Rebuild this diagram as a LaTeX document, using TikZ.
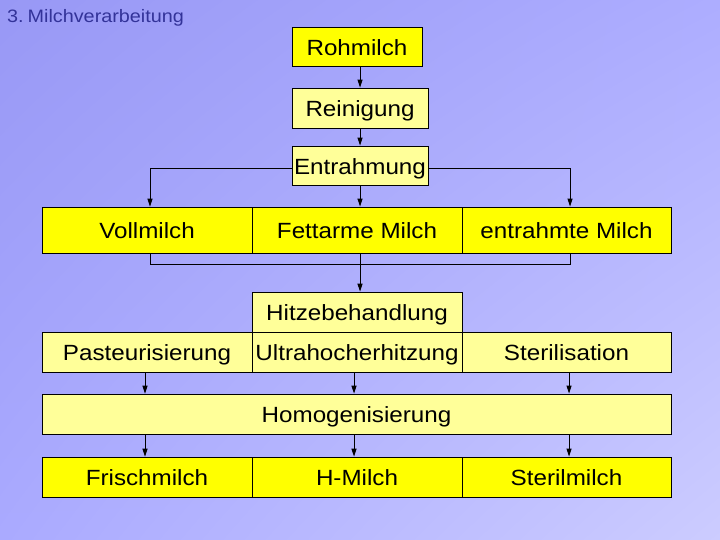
\documentclass[tikz,border=0pt]{standalone}
\usepackage{fontspec}
\setmainfont[FakeStretch=1.1]{Liberation Sans}
\usetikzlibrary{arrows.meta,shadings}
\definecolor{bright}{HTML}{FFFF00}
\definecolor{pale}{HTML}{FFFF99}
\definecolor{titleblue}{RGB}{51,51,153}
\definecolor{bgul}{RGB}{152,152,245}
\definecolor{bgur}{RGB}{173,173,255}
\definecolor{bgll}{RGB}{170,170,255}
\definecolor{bglr}{RGB}{204,204,255}
\tikzset{
  box/.style={draw=black, line width=0.8pt, inner sep=0pt, font=\fontsize{22}{24}\selectfont,
    text height=17.5pt, text depth=0pt, align=center},
  brightbox/.style={box, fill=bright},
  palebox/.style={box, fill=pale},
  conn/.style={draw=black, line width=0.95pt},
  arr/.style={conn, -{Triangle[length=8pt,width=5pt]}}
}
\begin{document}
\begin{tikzpicture}[x=1pt,y=-1pt]
\useasboundingbox (0,0) rectangle (720,540);
\shade[upper left=bgul, upper right=bgur, lower left=bgll, lower right=bglr]
  (0,0) rectangle (720,540);
\node[anchor=base west, inner sep=0pt, text=titleblue, font=\fontsize{18}{20}\selectfont] (title) at (7,22.7) {3.\hspace{0.22em}Milchverarbeitung};

\node[brightbox, minimum width=130pt, minimum height=39pt] (roh) at (357,46.5) {Rohmilch};
\node[palebox, minimum width=136pt, minimum height=40pt] (rein) at (360,108) {Reinigung};
\node[palebox, minimum width=136pt, minimum height=39pt] (entr) at (360,165.5) {Entrahmung};

\node[brightbox, minimum width=210pt, minimum height=46pt] (voll) at (147,230) {Vollmilch};
\node[brightbox, minimum width=210pt, minimum height=46pt] (fett) at (357,230) {Fettarme Milch};
\node[brightbox, minimum width=209pt, minimum height=46pt] (entm) at (566.5,230) {entrahmte Milch};

\node[palebox, minimum width=210pt, minimum height=40pt] (hitze) at (357,312) {Hitzebehandlung};
\node[palebox, minimum width=210pt, minimum height=40pt] (past) at (147,352) {Pasteurisierung};
\node[palebox, minimum width=210pt, minimum height=40pt] (uht) at (357,352) {Ultrahocherhitzung};
\node[palebox, minimum width=209pt, minimum height=40pt] (ster) at (566.5,352) {Sterilisation};

\node[palebox, minimum width=629pt, minimum height=40pt] (homo) at (356.5,414) {Homogenisierung};

\node[brightbox, minimum width=210pt, minimum height=40pt] (frisch) at (147,477) {Frischmilch};
\node[brightbox, minimum width=210pt, minimum height=40pt] (hmilch) at (357,477) {H-Milch};
\node[brightbox, minimum width=209pt, minimum height=40pt] (sterm) at (566.5,477) {Sterilmilch};

% top chain
\draw[arr] (roh.south -| rein.north) -- (rein.north);
\draw[arr] (rein.south) -- (entr.north);
% Entrahmung branches
\coordinate (eL) at (150,168);
\coordinate (eR) at (570,168);
\draw[arr] (entr.west |- eL) -- (eL) -- (eL |- voll.north);
\draw[arr] (entr.east |- eR) -- (eR) -- (eR |- entm.north);
\draw[arr] (entr.south) -- (entr.south |- fett.north);
% merge to Hitzebehandlung
\coordinate (mL) at (150,264);
\coordinate (mR) at (570,264);
\draw[conn] (mL |- voll.south) -- (mL) -- (mR) -- (mR |- entm.south);
\draw[arr] (entr.south |- fett.south) -- (entr.south |- hitze.north);
% to Homogenisierung and products
\foreach \x/\a/\b in {145/past/frisch, 354/uht/hmilch, 569/ster/sterm}{
  \draw[arr] (\x,0 |- \a.south) -- (\x,0 |- homo.north);
  \draw[arr] (\x,0 |- homo.south) -- (\x,0 |- \b.north);
}
\end{tikzpicture}
\end{document}
